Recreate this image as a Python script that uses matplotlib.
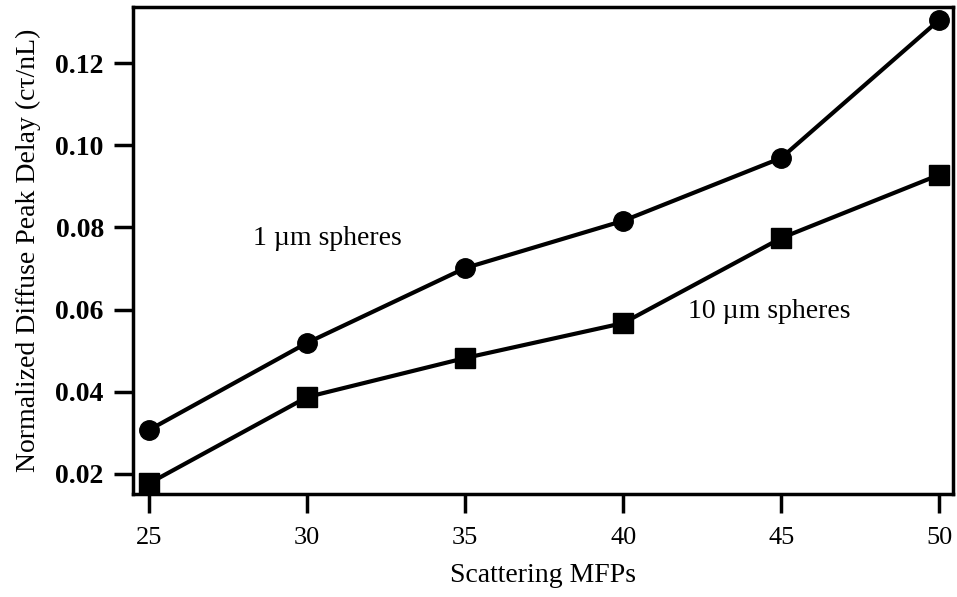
import matplotlib.pyplot as plt

# Scattering mean free paths and peak delays for two sphere sizes
mfps = [25, 30, 35, 40, 45, 50]
delay_1um = [0.0307, 0.0519, 0.0701, 0.0816, 0.0969, 0.1305]
delay_10um = [0.0177, 0.0387, 0.0482, 0.0567, 0.0774, 0.0928]
yticks = [0.02, 0.04, 0.06, 0.08, 0.10, 0.12]

plt.rcParams['font.family'] = ['Liberation Serif', 'DejaVu Serif']

fig = plt.figure(figsize=(9.57, 5.97), dpi=100)
ax = fig.add_axes([0.139, 0.1725, 0.857, 0.8155])

ax.plot(mfps, delay_1um, color='black', lw=3, marker='o', ms=14, clip_on=False, zorder=3)
ax.plot(mfps, delay_10um, color='black', lw=3, marker='s', ms=14, clip_on=False, zorder=3)

ax.text(28.29, 0.0757, '1 µm spheres', fontsize=20)
ax.text(42.06, 0.0580, '10 µm spheres', fontsize=20)

ax.set_xlim(24.49, 50.44)
ax.set_ylim(0.0151, 0.1336)
ax.set_xticks(mfps)
ax.set_yticks(yticks)
ax.set_yticklabels(['%.2f' % v for v in yticks])

for s in ax.spines.values():
    s.set_linewidth(2.5)
ax.tick_params(direction='out', length=14, width=2.5)
ax.tick_params(axis='x', labelsize=19, pad=10)
ax.tick_params(axis='y', labelsize=20, pad=7)
for lab in ax.get_yticklabels():
    lab.set_fontweight('bold')

ax.set_xlabel('Scattering MFPs', fontsize=20, labelpad=10)
ax.set_ylabel('Normalized Diffuse Peak Delay (cτ/nL)', fontsize=20, labelpad=10)

fig.savefig('out.png', dpi=100)
